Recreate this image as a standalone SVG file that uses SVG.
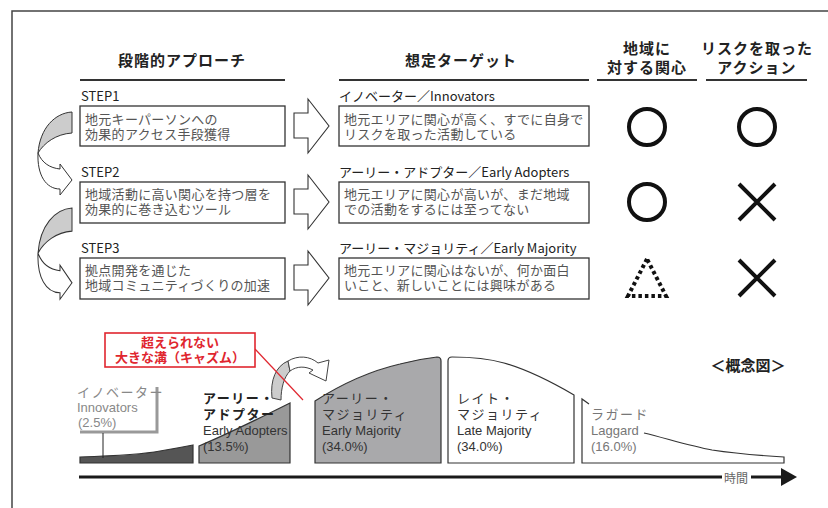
<svg xmlns="http://www.w3.org/2000/svg" width="828" height="508" viewBox="0 0 828 508">
<defs>
<style>
text{font-family:"Noto Sans CJK JP","Noto Sans",sans-serif;}
.lt{font-family:"Liberation Sans","Noto Sans CJK JP",sans-serif;}
.h{font-size:15px;font-weight:bold;fill:#222;text-anchor:middle;letter-spacing:1px;}
.ul{stroke:#333;stroke-width:2;fill:none;}
.lbl{font-size:13px;fill:#222;}
.box{fill:#fff;stroke:#333;stroke-width:1.3;}
.bt{font-size:13px;fill:#555;letter-spacing:0.3px;}
.barrow{fill:#fff;stroke:#333;stroke-width:1.1;}
.sym{fill:none;stroke:#111;stroke-width:4;}
.shape{stroke:#333;stroke-width:1.2;}
.ct{font-size:13px;}
.jp{letter-spacing:1.5px;}
.red{font-size:13px;font-weight:bold;fill:#e0262f;text-anchor:middle;}
</style>
<path id="ba" d="M-35,-13 L-21,-13 L-21,-27 L0,0 L-21,27 L-21,12 L-35,12 Z"/>
</defs>
<rect x="0" y="0" width="828" height="508" fill="#fff"/>
<path d="M12,508 L12,11 L828,11" fill="none" stroke="#444" stroke-width="1.5"/>

<g id="headers">
<text class="h" x="182" y="66">段階的アプローチ</text>
<text class="h" x="461" y="66">想定ターゲット</text>
<text class="h lt"><tspan x="647" y="54">地域に</tspan><tspan x="647" y="73">対する関心</tspan></text>
<text class="h lt"><tspan x="757" y="54">リスクを取った</tspan><tspan x="757" y="73">アクション</tspan></text>
<line class="ul" x1="80" y1="80" x2="285" y2="80"/>
<line class="ul" x1="339" y1="80" x2="589" y2="80"/>
<line class="ul" x1="597" y1="80" x2="697" y2="80"/>
<line class="ul" x1="706" y1="80" x2="807" y2="80"/>
</g>

<g id="step1">
<text class="lbl" x="81" y="101">STEP1</text>
<rect class="box" x="80" y="106" width="205" height="40"/>
<text class="bt lt"><tspan x="85" y="124">地元キーパーソンへの</tspan><tspan x="85" y="139">効果的アクセス手段獲得</tspan></text>
</g>
<g id="step2">
<text class="lbl" x="81" y="177">STEP2</text>
<rect class="box" x="80" y="182" width="205" height="41"/>
<text class="bt lt"><tspan x="85" y="199">地域活動に高い関心を持つ層を</tspan><tspan x="85" y="214">効果的に巻き込むツール</tspan></text>
</g>
<g id="step3">
<text class="lbl" x="81" y="253">STEP3</text>
<rect class="box" x="80" y="258" width="205" height="41"/>
<text class="bt lt"><tspan x="85" y="275">拠点開発を通じた</tspan><tspan x="85" y="290">地域コミュニティづくりの加速</tspan></text>
</g>

<g id="target1">
<text class="lbl" x="339" y="101">イノベーター／Innovators</text>
<rect class="box" x="339" y="106" width="250" height="40"/>
<text class="bt lt"><tspan x="344" y="124">地元エリアに関心が高く、すでに自身で</tspan><tspan x="344" y="139">リスクを取った活動している</tspan></text>
</g>
<g id="target2">
<text class="lbl" x="339" y="177">アーリー・アドプター／Early Adopters</text>
<rect class="box" x="339" y="182" width="250" height="41"/>
<text class="bt lt"><tspan x="344" y="199">地元エリアに関心が高いが、まだ地域</tspan><tspan x="344" y="214">での活動をするには至ってない</tspan></text>
</g>
<g id="target3">
<text class="lbl" x="339" y="253">アーリー・マジョリティ／Early Majority</text>
<rect class="box" x="339" y="258" width="250" height="41"/>
<text class="bt lt"><tspan x="344" y="275">地元エリアに関心はないが、何か面白</tspan><tspan x="344" y="290">いこと、新しいことには興味がある</tspan></text>
</g>

<g id="marks">
<circle class="sym" cx="647" cy="127" r="18"/>
<circle class="sym" cx="757" cy="127" r="18"/>
<circle class="sym" cx="647" cy="202" r="18"/>
<path class="sym" stroke-width="3.5" d="M739,184 L775,220 M775,184 L739,220"/>
<polygon class="sym" stroke-dasharray="3.5 3" points="647,259 628,296 666,296"/>
<path class="sym" stroke-width="3.5" d="M739,260 L775,296 M775,260 L739,296"/>
</g>

<g id="connectors">
<use href="#ba" class="barrow" transform="translate(329,126)"/>
<use href="#ba" class="barrow" transform="translate(329,202)"/>
<use href="#ba" class="barrow" transform="translate(329,278)"/>
<g id="curve1" stroke="#333" stroke-width="1">
<path d="M72,112 C55,113 40,128 38,153 C44,143 56,134 72,133 Z" fill="#ccc"/>
<path d="M38,153 C42,163 50,168 60,169 L60,164 L72,180 L60,195 L60,189 C46,189 37,175 38,153 Z" fill="#fff"/>
</g>
<g id="curve2" stroke="#333" stroke-width="1" transform="translate(0,208) scale(1,1.1) translate(0,-112)">
<path d="M72,112 C55,113 40,128 38,153 C44,143 56,134 72,133 Z" fill="#ccc"/>
<path d="M38,153 C42,163 50,168 60,169 L60,164 L72,180 L60,195 L60,189 C46,189 37,175 38,153 Z" fill="#fff"/>
</g>
</g>

<g id="curve-shapes">
<path id="innovators-shape" class="shape" fill="#555" d="M80,463 L80,457 C110,456 140,455 160,451 C172,449 183,447 193,445 L193,463 Z"/>
<path id="adopters-shape" class="shape" fill="#999" d="M199,463 L199,446 C230,433 260,418 290,403 L290,463 Z"/>
<path id="early-majority-shape" class="shape" fill="#a9a9ab" d="M315,463 L315,401 C340,385 370,371 400,364 C415,360 428,358 437,357 Q441,357 441,361 L441,463 Z"/>
<path id="late-majority-shape" class="shape" fill="#fff" d="M448,463 L448,361 Q448,357 452,357 C470,357 490,359 504,363 C525,369 550,381 574,395 L574,463 Z"/>
<path id="laggard-shape" class="shape" fill="none" d="M589,404 L582,399 L582,463 L784,463 L784,457 C750,455 725,452 712,450 C690,446 665,438 644,433"/>
</g>

<g id="chasm">
<path fill="#ccc" stroke="#444" stroke-width="1" d="M272,398 C270,380 276,366 288,361 L290,371 C284,377 281,388 281,400 Z"/>
<path fill="#fff" stroke="#444" stroke-width="1" d="M288,361 C298,355 310,356 318,363 L329,360 L326,381 L309,373 L313,370 C305,366 297,366 290,371 Z"/>
<line x1="255" y1="349" x2="303" y2="400" stroke="#e0262f" stroke-width="1.2"/>
<rect x="105" y="333" width="150" height="34" fill="#fff" stroke="#e0262f" stroke-width="1.6"/>
<text class="red lt"><tspan x="180" y="347">超えられない</tspan><tspan x="180" y="362">大きな溝（キャズム）</tspan></text>
</g>

<g id="innovators-label">
<path d="M80,432 L157,432 L157,387" fill="none" stroke="#999" stroke-width="3"/>
<line x1="103" y1="433" x2="103" y2="458" stroke="#222" stroke-width="1"/>
<text class="ct lt" fill="#888"><tspan class="jp" x="77" y="397">イノベーター</tspan><tspan x="77" y="412">Innovators</tspan><tspan x="78" y="427">(2.5%)</tspan></text>
</g>
<g id="adopters-label">
<text class="ct lt"><tspan class="jp" fill="#222" font-weight="bold" x="203" y="403">アーリー・</tspan><tspan class="jp" fill="#222" font-weight="bold" x="203" y="419">アドプター</tspan><tspan fill="#333" x="203" y="435">Early Adopters</tspan><tspan fill="#333" x="203" y="451">(13.5%)</tspan></text>
</g>
<g id="early-majority-label">
<text class="ct lt" fill="#333"><tspan class="jp" x="322" y="403">アーリー・</tspan><tspan class="jp" x="322" y="419">マジョリティ</tspan><tspan x="322" y="435">Early Majority</tspan><tspan x="322" y="451">(34.0%)</tspan></text>
</g>
<g id="late-majority-label">
<text class="ct lt" fill="#333"><tspan class="jp" x="457" y="403">レイト・</tspan><tspan class="jp" x="457" y="419">マジョリティ</tspan><tspan x="457" y="435">Late Majority</tspan><tspan x="457" y="451">(34.0%)</tspan></text>
</g>
<g id="laggard-label">
<text class="ct lt" fill="#777"><tspan class="jp" x="591" y="419">ラガード</tspan><tspan x="591" y="435">Laggard</tspan><tspan x="591" y="451">(16.0%)</tspan></text>
</g>

<text x="748" y="371" font-size="15" font-weight="bold" fill="#222" text-anchor="middle">＜概念図＞</text>

<g id="axis">
<line x1="79" y1="477" x2="783" y2="477" stroke="#1a1a1a" stroke-width="3"/>
<polygon points="781,468 797,477 781,486" fill="#1a1a1a"/>
<rect x="722" y="470" width="29" height="15" fill="#fff"/>
<text x="736" y="483" font-size="12" fill="#666" text-anchor="middle">時間</text>
</g>
</svg>
